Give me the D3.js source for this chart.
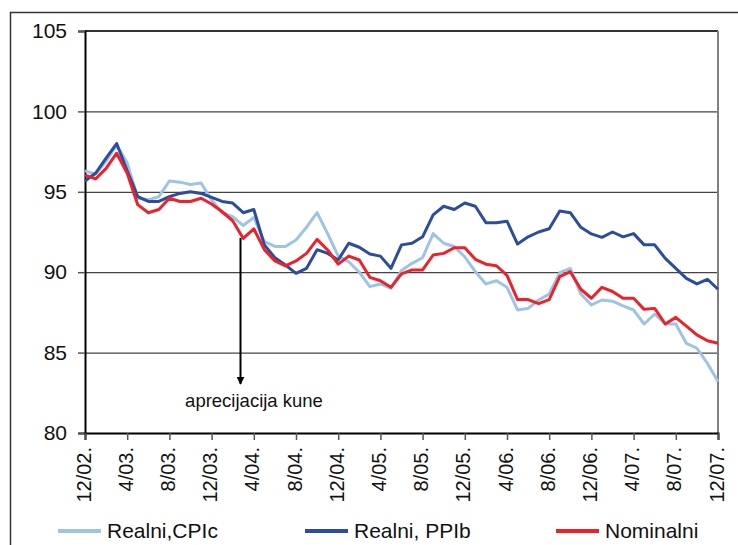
<!doctype html>
<html lang="en">
  <head>
    <meta charset="utf-8" />
    <title>Tecaj kune</title>
    <style>
     body {
       margin: 0;
       font-family: "Liberation Sans", Arial, sans-serif;
       background: white;
     }
     .line {
       fill: none;
       stroke-width: 3;
       stroke-linejoin: round;
     }
    </style>
  </head>

  <body>
    <div id="chart"></div>

    <script src="https://d3js.org/d3.v7.min.js"></script>
    <script>

    // monthly index, 12/02. to 12/07.
    var tick_labels = ["12/02.", "4/03.", "8/03.", "12/03.", "4/04.", "8/04.", "12/04.", "4/05.",
                       "8/05.", "12/05.", "4/06.", "8/06.", "12/06.", "4/07.", "8/07.", "12/07."];
    var y_ticks = [80, 85, 90, 95, 100, 105];

    var realni_cpi = [96.3, 96.1, 96.9, 97.9, 96.8, 94.6, 94.5, 94.7, 95.67, 95.6,
                      95.45, 95.55, 94.5, 93.7, 93.45, 92.9, 93.4, 91.9, 91.6, 91.6,
                      92.0, 92.8, 93.7, 92.4, 91.0, 90.65, 90.0, 89.1, 89.27, 89.0,
                      90.1, 90.55, 90.9, 92.4, 91.8, 91.6, 90.96, 90.03, 89.27, 89.47,
                      89.06, 87.65, 87.75, 88.27, 88.64, 89.97, 90.24, 88.64, 87.96, 88.27,
                      88.2, 87.9, 87.65, 86.78, 87.4, 86.78, 86.78, 85.58, 85.27, 84.33,
                      83.2];
    var realni_ppi = [95.67, 96.15, 97.1, 98.0, 96.3, 94.7, 94.4, 94.4, 94.7, 94.9,
                      95.0, 94.9, 94.65, 94.4, 94.3, 93.7, 93.9, 91.7, 90.9, 90.45,
                      89.93, 90.24, 91.4, 91.17, 90.76, 91.8, 91.55, 91.13, 91.0, 90.24,
                      91.7, 91.8, 92.2, 93.56, 94.1, 93.9, 94.3, 94.1, 93.08, 93.08,
                      93.17, 91.75, 92.2, 92.5, 92.7, 93.8, 93.7, 92.79, 92.38, 92.17,
                      92.5, 92.2, 92.4, 91.7, 91.7, 90.86, 90.24, 89.62, 89.27, 89.56,
                      88.94];
    var nominalni = [96.04, 95.8, 96.46, 97.4, 96.15, 94.2, 93.7, 93.9, 94.6, 94.4,
                     94.4, 94.6, 94.24, 93.76, 93.2, 92.1, 92.7, 91.4, 90.7, 90.4,
                     90.7, 91.17, 92.04, 91.38, 90.5, 91.0, 90.76, 89.68, 89.47, 89.06,
                     89.9, 90.14, 90.14, 91.07, 91.17, 91.52, 91.52, 90.8, 90.5, 90.4,
                     89.8, 88.3, 88.3, 88.05, 88.3, 89.72, 90.03, 88.94, 88.38, 89.06,
                     88.8, 88.38, 88.38, 87.69, 87.75, 86.78, 87.19, 86.65, 86.1, 85.74,
                     85.58];

    var series = [
      {name: "Realni,CPIc", values: realni_cpi, color: "#9dc3e6", lx: 58},
      {name: "Realni, PPIb", values: realni_ppi, color: "#2b4c9f", lx: 305},
      {name: "Nominalni", values: nominalni, color: "#ee2128", lx: 556}
    ];

    var width = 738, height = 545;
    var plot = {left: 85, right: 718, top: 31, bottom: 433};

    var svg = d3.select("#chart").append("svg")
      .attr("width", width)
      .attr("height", height);

    var x = d3.scaleLinear().domain([0, realni_cpi.length - 1]).range([plot.left, plot.right]);
    var y = d3.scaleLinear().domain([80, 105]).range([plot.bottom, plot.top]);

    // outer frame (cut off at right and bottom)
    svg.append("path")
      .attr("d", "M10.5," + height + "V12.5H" + width)
      .attr("fill", "none")
      .attr("stroke", "#333")
      .attr("stroke-width", 1.5);

    // grid
    svg.append("g")
      .attr("transform", "translate(" + plot.left + ",0)")
      .call(d3.axisLeft(y).tickValues(y_ticks).tickSize(-(plot.right - plot.left)).tickFormat(""))
      .call(g => g.select(".domain").remove())
      .call(g => g.selectAll("line").attr("stroke", "#444").attr("stroke-width", 1.2));

    svg.append("line")
      .attr("x1", plot.left).attr("x2", plot.right)
      .attr("y1", plot.top).attr("y2", plot.top)
      .attr("stroke", "#333")
      .attr("stroke-width", 2);
    svg.append("line")
      .attr("x1", plot.right).attr("x2", plot.right)
      .attr("y1", plot.top).attr("y2", plot.bottom)
      .attr("stroke", "#808080")
      .attr("stroke-width", 2);

    // y axis
    var yAxis = svg.append("g")
      .attr("transform", "translate(" + plot.left + ",0)")
      .call(d3.axisLeft(y).tickValues(y_ticks).tickSize(7).tickPadding(11));
    yAxis.select(".domain").attr("stroke", "#000").attr("stroke-width", 2);
    yAxis.selectAll("line").attr("stroke", "#555").attr("stroke-width", 1.5);
    yAxis.selectAll("text")
      .attr("font-family", "'Liberation Sans', Arial, sans-serif")
      .attr("font-size", 21)
      .attr("fill", "#111");

    // x axis
    var xAxis = svg.append("g")
      .attr("transform", "translate(0," + plot.bottom + ")")
      .call(d3.axisBottom(x)
        .tickValues(d3.range(0, realni_cpi.length, 4))
        .tickSize(7)
        .tickFormat(function(d) { return tick_labels[d / 4]; }));
    xAxis.select(".domain").attr("stroke", "#000").attr("stroke-width", 2);
    xAxis.selectAll("line").attr("stroke", "#555").attr("stroke-width", 1.5);
    xAxis.selectAll("text")
      .attr("font-family", "'Liberation Sans', Arial, sans-serif")
      .attr("font-size", 20)
      .attr("fill", "#111")
      .attr("text-anchor", "end")
      .attr("transform", "rotate(-90)")
      .attr("x", -14)
      .attr("y", -2)
      .attr("dy", "0.35em");

    // lines
    var line = d3.line()
      .x(function(d, i) { return x(i); })
      .y(function(d) { return y(d); });

    svg.selectAll(".line")
      .data(series)
      .enter().append("path")
      .attr("class", "line")
      .attr("stroke", function(d) { return d.color; })
      .attr("d", function(d) { return line(d.values); });

    // annotation
    svg.append("defs").append("marker")
      .attr("id", "arrow")
      .attr("viewBox", "0 0 10 10")
      .attr("refX", 9).attr("refY", 5)
      .attr("markerWidth", 4).attr("markerHeight", 4)
      .attr("orient", "auto")
      .append("path")
      .attr("d", "M0,0L10,5L0,10z")
      .attr("fill", "#000");

    svg.append("line")
      .attr("x1", 240.5).attr("x2", 240.5)
      .attr("y1", 238).attr("y2", 384)
      .attr("stroke", "#000")
      .attr("stroke-width", 2)
      .attr("marker-end", "url(#arrow)");

    svg.append("text")
      .attr("x", 254)
      .attr("y", 407)
      .attr("text-anchor", "middle")
      .attr("font-size", 18.5)
      .attr("fill", "#111")
      .text("aprecijacija kune");

    // legend
    var legend = svg.selectAll(".legend")
      .data(series)
      .enter().append("g")
      .attr("class", "legend")
      .attr("transform", function(d) { return "translate(" + d.lx + ",531)"; });
    legend.append("line")
      .attr("x1", 0).attr("x2", 43)
      .attr("stroke", function(d) { return d.color; })
      .attr("stroke-width", 4);
    legend.append("text")
      .attr("x", 49)
      .attr("dy", "0.33em")
      .attr("font-size", 21)
      .attr("fill", "#111")
      .text(function(d) { return d.name; });

    </script>
  </body>
</html>
